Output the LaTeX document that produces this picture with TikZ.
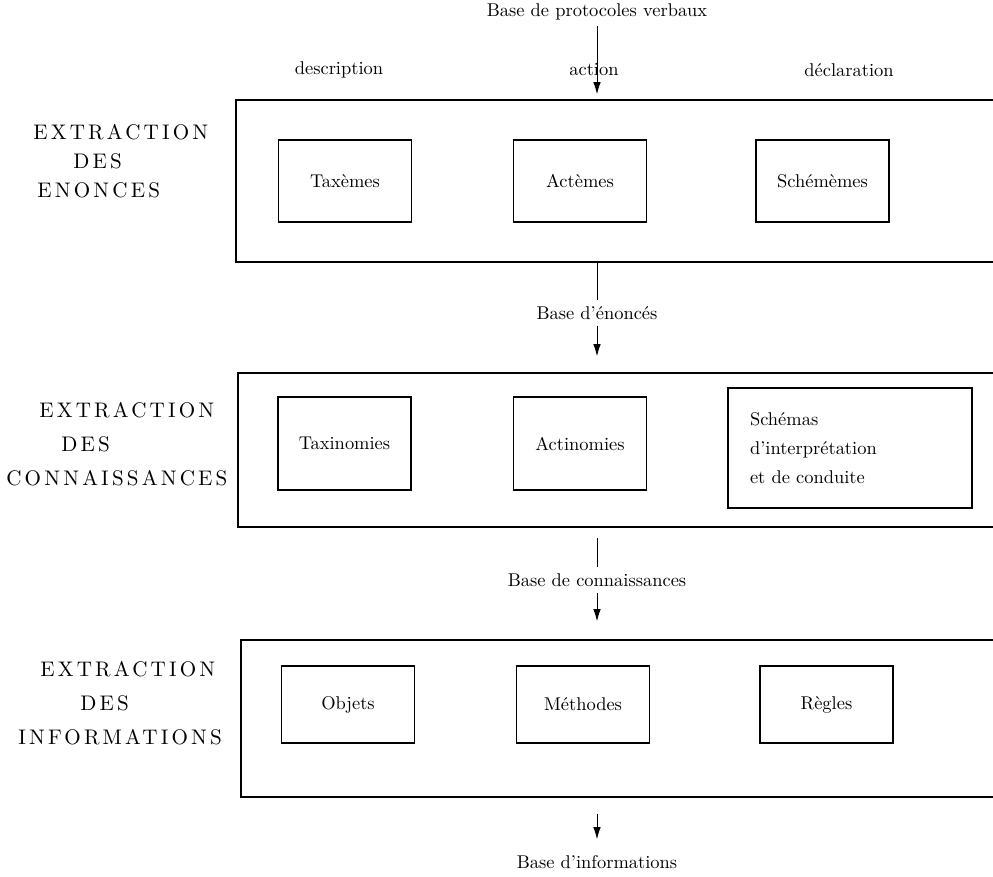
\documentclass[tikz,border=0pt]{standalone}
\usepackage{fontspec}
\usetikzlibrary{arrows.meta}
\newfontfamily\capsfamily{lmroman10-regular}[Extension=.otf,LetterSpace=15]
\newcommand{\lettrescaps}{\capsfamily\fontsize{12}{16.4}\selectfont}

\begin{document}
\begin{tikzpicture}[
  every node/.style={font=\fontsize{10.5}{12.6}\selectfont},
  cadre/.style={draw,line width=0.9pt,anchor=west,minimum width=16cm},
  boite/.style={draw,line width=0.9pt,minimum width=2.66cm,minimum height=1.64cm},
  etape/.style={anchor=west,inner sep=0pt,align=left,font=\lettrescaps},
  fleche/.style={-{Latex[length=2.4mm,width=1.5mm]},line width=0.5pt}]
\useasboundingbox (0,0) rectangle (19.86,17.52);
\clip (0,0) rectangle (19.86,17.52);

\node (proto) at (11.94,17.28) {Base de protocoles verbaux};
\node (descr) at (6.78,16.12) {description};
\node (action) at (11.88,16.12) {action};
\node (decl) at (16.98,16.12) {déclaration};

\node[cadre,minimum height=3.24cm] (cadre1) at (4.70,13.90) {};
\node[boite] (taxemes) at (6.90,13.90) {Taxèmes};
\node[boite] (actemes) at (11.60,13.90) {Actèmes};
\node[boite] (schememes) at (16.45,13.90) {Schémèmes};
\node[etape] (etape1) at (0.66,14.30) {EXTRACTION\\\hspace*{0.8cm}DES\\\hspace*{0.08cm}ENONCES};

\node (enonces) at (11.94,11.26) {Base d'énoncés};

\node[cadre,minimum height=3.08cm] (cadre2) at (4.74,8.52) {};
\node[boite,minimum height=1.86cm] (taxinomies) at (6.89,8.65) {Taxinomies};
\node[boite,minimum height=1.86cm] (actinomies) at (11.60,8.65) {Actinomies};
\node[draw,line width=0.9pt,text width=4.0cm,inner xsep=0.44cm,minimum height=2.4cm,align=left,font=\fontsize{10.5}{16.4}\selectfont] (schemas) at (17.00,8.56) {Schémas\\d'interprétation\\et de conduite};
\node[etape] (etape2) at (0.12,8.64) {\hspace*{0.66cm}EXTRACTION\\[3pt]\hspace*{1.1cm}DES\\[3pt]CONNAISSANCES};

\node (connaiss) at (11.94,5.92) {Base de connaissances};

\node[cadre,minimum height=3.14cm] (cadre3) at (4.80,3.15) {};
\node[boite,minimum height=1.54cm] (objets) at (6.96,3.43) {Objets};
\node[boite,minimum height=1.54cm] (methodes) at (11.66,3.43) {Méthodes};
\node[boite,minimum height=1.54cm] (regles) at (16.53,3.43) {Règles};
\node[etape] (etape3) at (0.36,3.46) {\hspace*{0.44cm}EXTRACTION\\[3pt]\hspace*{1.24cm}DES\\[3pt]INFORMATIONS};

\node (informations) at (11.94,0.28) {Base d'informations};

\draw[fleche,shorten >=0.1cm] (proto) -- (proto |- cadre1.north);
\draw[line width=0.5pt] (enonces |- cadre1.south) -- (enonces);
\draw[fleche,shorten >=0.32cm] (enonces) -- (enonces |- cadre2.north);
\draw[line width=0.5pt,shorten <=0.2cm] (connaiss |- cadre2.south) -- (connaiss);
\draw[fleche,shorten >=0.36cm] (connaiss) -- (connaiss |- cadre3.north);
\draw[fleche,shorten <=0.32cm,shorten >=0.2cm] (informations |- cadre3.south) -- (informations);
\end{tikzpicture}
\end{document}
